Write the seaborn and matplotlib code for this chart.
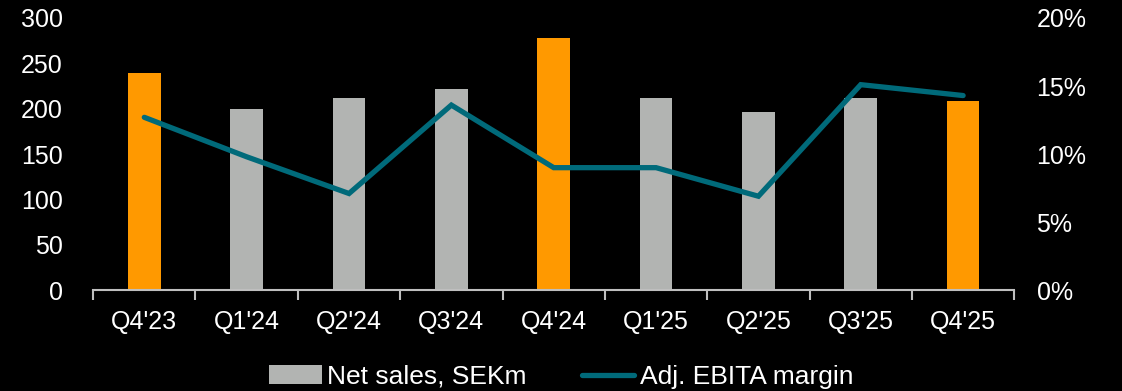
import numpy as np
import pandas as pd
import seaborn as sns
import matplotlib.pyplot as plt
from matplotlib.patches import Patch
from matplotlib.lines import Line2D
from matplotlib.ticker import FuncFormatter, FixedLocator

# Data
quarters = ["Q4'23", "Q1'24", "Q2'24", "Q3'24", "Q4'24",
            "Q1'25", "Q2'25", "Q3'25", "Q4'25"]
net_sales = [239, 200, 212, 222, 278, 212, 196, 212, 208]
ebita_margin = [12.7, 9.8, 7.1, 13.6, 9.0, 9.0, 6.9, 15.1, 14.3]

ORANGE = "#FF9900"
GREY = "#B2B4B2"
TEAL = "#006A7A"
TEXT = "#FFFFFF"

sns.set_theme(style="white")
plt.rcParams['font.family'] = ['Liberation Sans', 'DejaVu Sans']

df = pd.DataFrame({"quarter": quarters, "sales": net_sales,
                   "margin": ebita_margin})
bar_colors = [ORANGE if q.startswith("Q4") else GREY for q in quarters]

fig = plt.figure(figsize=(11.22, 3.91), dpi=100, facecolor="black")
ax = fig.add_axes([0.083, 0.258, 0.821, 0.696])
ax.set_facecolor("black")

sns.barplot(data=df, x="quarter", y="sales", hue="quarter",
            palette=bar_colors, width=0.32, saturation=1,
            linewidth=0, edgecolor="none", legend=False, ax=ax)

ax2 = ax.twinx()
sns.lineplot(x=np.arange(len(quarters)), y=df["margin"], color=TEAL,
             linewidth=3.8, ax=ax2, solid_capstyle="round",
             solid_joinstyle="miter")

ax.set_xlim(-0.5, len(quarters) - 0.5)
ax.set_ylim(0, 300)
ax.set_yticks(range(0, 301, 50))
ax2.set_ylim(0, 20)
ax2.set_yticks(range(0, 21, 5))
ax2.yaxis.set_major_formatter(FuncFormatter(lambda v, p: f"{v:.0f}%"))

for a in (ax, ax2):
    for s in a.spines.values():
        s.set_visible(False)
    a.set_xlabel("")
    a.set_ylabel("")
    a.grid(False)

ax.spines["bottom"].set_visible(True)
ax.spines["bottom"].set_color("#BFBFBF")
ax.spines["bottom"].set_linewidth(1.5)

ax.tick_params(axis="x", which="major", length=0, pad=14,
               labelsize=18, labelcolor=TEXT)
ax.xaxis.set_minor_locator(FixedLocator(np.arange(-0.5, len(quarters), 1.0)))
ax.tick_params(axis="x", which="minor", length=7, width=1.5,
               color="#BFBFBF", direction="out", bottom=True)
ax.tick_params(axis="y", length=0, pad=22, labelsize=18, labelcolor=TEXT)
ax2.tick_params(axis="y", length=0, pad=16, labelsize=18, labelcolor=TEXT)

handles = [Patch(facecolor=GREY, edgecolor="none", label="Net sales, SEKm"),
           Line2D([], [], color=TEAL, linewidth=3.8,
                  solid_capstyle="round", label="Adj. EBITA margin")]
leg = fig.legend(handles=handles, loc="lower center",
                 bbox_to_anchor=(0.5, -0.055), ncol=2, frameon=False,
                 fontsize=19, handlelength=2.0, handletextpad=0.2,
                 columnspacing=2.1, labelcolor=TEXT)

fig.savefig("out.png", dpi=100, facecolor="black")
